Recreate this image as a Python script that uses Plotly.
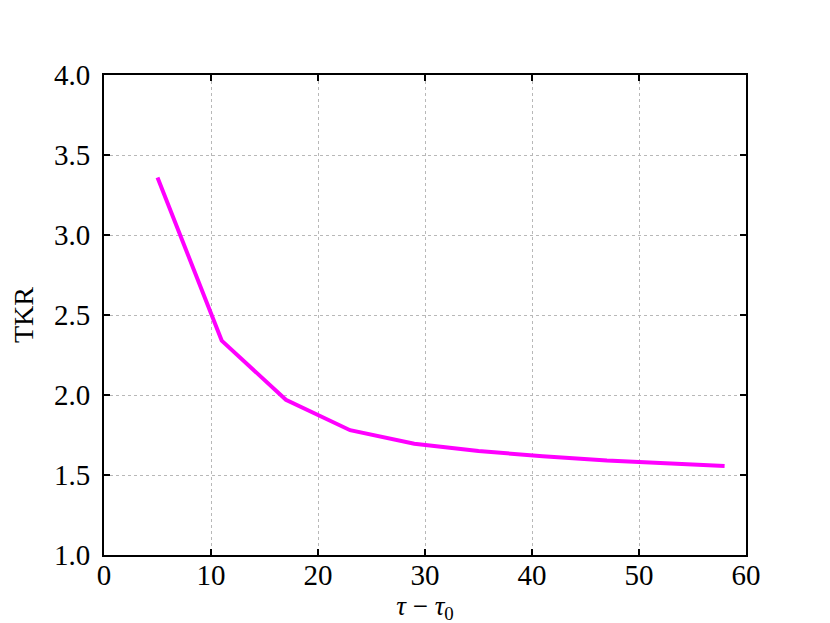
import plotly.graph_objects as go

# values
tau = [5, 11, 17, 23, 29, 35, 41, 47, 53, 58]
tkr = [3.36, 2.34, 1.97, 1.78, 1.695, 1.65, 1.617, 1.59, 1.572, 1.557]

x_ticks = [0, 10, 20, 30, 40, 50, 60]
y_ticks = [1.0, 1.5, 2.0, 2.5, 3.0, 3.5, 4.0]

font = "Liberation Serif, DejaVu Serif, serif"

fig = go.Figure()
fig.add_trace(go.Scatter(
    x=tau, y=tkr, mode="lines",
    line=dict(color="#ff00ff", width=4),
    showlegend=False,
))

axis_common = dict(
    showline=True, linecolor="black", linewidth=2, mirror="ticks",
    ticks="inside", ticklen=6, tickwidth=2, tickcolor="black",
    showgrid=True, gridcolor="#b8b8b8", griddash="dot", gridwidth=1,
    zeroline=False,
    tickfont=dict(family=font, size=29, color="black"),
)

fig.update_xaxes(
    range=[0, 60], tickvals=x_ticks, ticklabelstandoff=-7,
    title=dict(text="<i>τ</i> − <i>τ</i><sub>0</sub>",
               font=dict(family=font, size=27, color="black"), standoff=0),
    **axis_common,
)
fig.update_yaxes(
    range=[1.0, 4.0], tickvals=y_ticks, tickformat=".1f", ticklabelstandoff=6,
    title=dict(text="TKR", font=dict(family=font, size=28, color="black"),
               standoff=14),
    **axis_common,
)

fig.update_layout(
    width=830, height=623,
    margin=dict(l=96, r=92, t=67, b=76),
    plot_bgcolor="white", paper_bgcolor="white",
)

fig.write_html("out.html")
